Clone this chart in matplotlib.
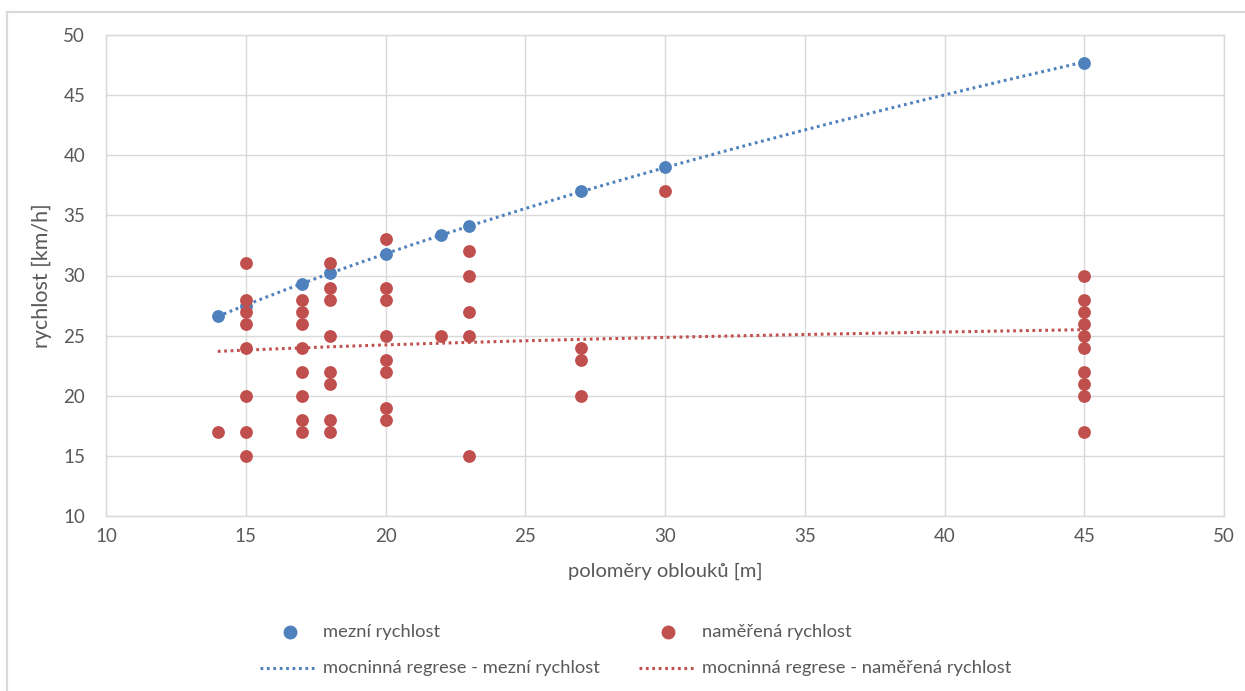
import numpy as np
import matplotlib
matplotlib.use("Agg")
import matplotlib.pyplot as plt
from matplotlib.lines import Line2D

# ---- data ----
mez_r = [14, 15, 17, 18, 20, 22, 23, 27, 30, 45]
mez_v = [26.6, 27.5, 29.3, 30.2, 31.8, 33.4, 34.1, 37.0, 39.0, 47.7]

nam_r = [14,
         15, 15, 15, 15, 15, 15, 15, 15,
         17, 17, 17, 17, 17, 17, 17, 17,
         18, 18, 18, 18, 18, 18, 18, 18,
         20, 20, 20, 20, 20, 20, 20, 20,
         22,
         23, 23, 23, 23, 23,
         27, 27, 27,
         30,
         45, 45, 45, 45, 45, 45, 45, 45, 45, 45]
nam_v = [17,
         31, 28, 27, 26, 24, 20, 17, 15,
         28, 27, 26, 24, 22, 20, 18, 17,
         31, 29, 28, 25, 22, 21, 18, 17,
         33, 29, 28, 25, 23, 22, 19, 18,
         25,
         32, 30, 27, 25, 15,
         24, 23, 20,
         37,
         30, 28, 27, 26, 25, 24, 22, 21, 20, 17]

nam_trend_a = 20.08
nam_trend_b = 0.0627

xticks = [10, 15, 20, 25, 30, 35, 40, 45, 50]
yticks = [10, 15, 20, 25, 30, 35, 40, 45, 50]

BLUE = "#4F81BD"
RED = "#C0504D"
GRID = "#D9D9D9"
TXT = "#595959"

plt.rcParams['font.family'] = ['Lato', 'DejaVu Sans']

W, H = 1245, 691
fig = plt.figure(figsize=(W / 100, H / 100), dpi=100)
ax = fig.add_axes([106 / W, 1 - 516 / H, (1224 - 106) / W, (516 - 35) / H])

def power_fit(r, v):
    b, lna = np.polyfit(np.log(r), np.log(v), 1)
    return np.exp(lna), b

rr = np.linspace(min(mez_r), max(mez_r), 200)
a1, b1 = power_fit(mez_r, mez_v)
rr2 = np.linspace(min(nam_r), max(nam_r), 200)
dot = (0, (0.9, 1.2))
ax.plot(rr, a1 * rr ** b1, color=BLUE, lw=2.2, ls=dot, zorder=3)
ax.plot(rr2, nam_trend_a * rr2 ** nam_trend_b, color=RED, lw=2.2, ls=dot, zorder=3)

ax.scatter(mez_r, mez_v, s=85, color=BLUE, zorder=4, linewidths=0)
ax.scatter(nam_r, nam_v, s=85, color=RED, zorder=5, linewidths=0)

ax.set_xlim(10, 50)
ax.set_ylim(10, 50)
ax.set_xticks(xticks)
ax.set_yticks(yticks)
ax.grid(True, color=GRID, lw=1.0)
ax.set_axisbelow(True)
for s in ax.spines.values():
    s.set_color(GRID)
    s.set_linewidth(1.0)
ax.tick_params(length=0, labelsize=13.5, colors=TXT, pad=9)
ax.tick_params(axis='y', pad=15)

ax.set_xlabel("poloměry oblouků [m]", fontsize=14.5, color=TXT, labelpad=12)
ax.set_ylabel("rychlost [km/h]", fontsize=15.5, color=TXT, labelpad=8)

# outer chart border (left & top)
fig.add_artist(Line2D([7 / W, 7 / W], [0, 1 - 12 / H], color=GRID, lw=1.6))
fig.add_artist(Line2D([7 / W, 1], [1 - 12 / H, 1 - 12 / H], color=GRID, lw=1.6))

def fx(x):
    return x / W

def fy(y):
    return 1 - y / H

fig.add_artist(Line2D([fx(290)], [fy(632)], marker='o', ms=9, color=BLUE, lw=0))
fig.add_artist(Line2D([fx(668)], [fy(632)], marker='o', ms=9, color=RED, lw=0))
fig.add_artist(Line2D([fx(260), fx(314)], [fy(668), fy(668)], color=BLUE, lw=2.2, ls=dot))
fig.add_artist(Line2D([fx(639), fx(694)], [fy(668), fy(668)], color=RED, lw=2.2, ls=dot))
fs = 13.2
fig.text(fx(323), fy(632), "mezní rychlost", fontsize=fs, color=TXT, va='center', ha='left')
fig.text(fx(702), fy(632), "naměřená rychlost", fontsize=fs, color=TXT, va='center', ha='left')
fig.text(fx(323), fy(668), "mocninná regrese - mezní rychlost", fontsize=fs, color=TXT, va='center', ha='left')
fig.text(fx(702), fy(668), "mocninná regrese - naměřená rychlost", fontsize=fs, color=TXT, va='center', ha='left')

fig.savefig("out.png", dpi=100, facecolor="white")
